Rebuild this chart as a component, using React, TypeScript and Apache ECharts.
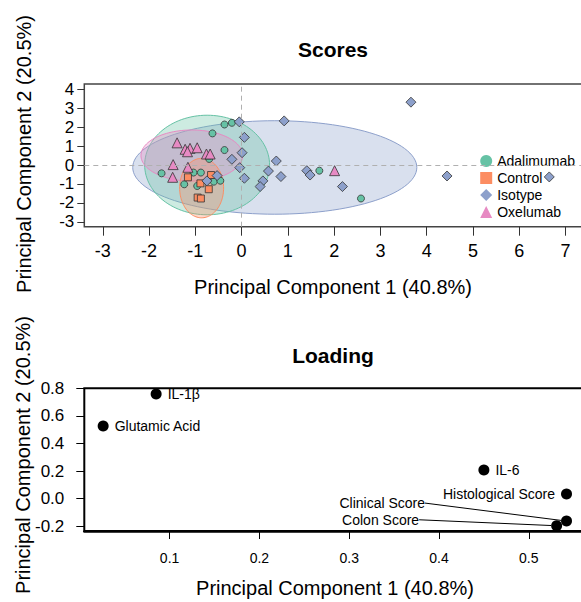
import React, { useEffect, useRef } from "react";
import * as echarts from "echarts";

const FONT = "'Liberation Sans', Arial, sans-serif";

// ---- Scores (PCA scores) ----
const groups = ["Adalimumab", "Control", "Isotype", "Oxelumab"];
const groupColors = ["#66c2a5", "#fc8d62", "#8da0cb", "#e78ac3"];
const groupFills = [
  "rgba(102,194,165,0.33)",
  "rgba(252,141,98,0.33)",
  "rgba(141,160,203,0.33)",
  "rgba(231,138,195,0.33)",
];
const groupSymbols = ["circle", "rect", "diamond", "triangle"];
const groupSymbolSizes = [7, 7, 10, 10];

const adalimumabPC1 = [-0.37, -0.21, -0.63, -0.37, -0.7, -1.73, -1.04, -0.88, -1.24, -0.96, -0.6, -0.46, 1.68, 2.58];
const adalimumabPC2 = [2.14, 2.23, 1.67, 0.79, 0.32, -0.44, -0.4, -0.4, -1.02, -1.11, -0.88, -0.83, -0.3, -1.77];

const controlPC1 = [-1.16, -0.89, -0.71, -0.95, -0.88, -0.66];
const controlPC2 = [-0.65, -0.97, -1.28, -1.72, -1.77, -0.53];

const isotypePC1 = [-0.05, 0.92, 0.06, 0.01, -0.21, 0.75, -0.04, 0.58, 0.06, 0.85, 0.46, 0.4, 1.41, 1.48, -0.75, -0.53, 3.66, 4.44, 2.18, 6.65];
const isotypePC2 = [2.28, 2.33, 1.46, 0.65, 0.3, 0.21, -0.14, -0.32, -0.7, -0.61, -0.84, -1.14, -0.3, -0.53, -0.84, -0.56, 3.32, -0.58, -1.14, -0.63];

const oxelumabPC1 = [-1.395, -1.22, -1.115, -1.17, -0.96, -0.76, -0.68, -1.48, -1.16, -1.49, 2.01];
const oxelumabPC2 = [1.17, 0.83, 0.88, 0.7, 0.91, 0.58, 0.58, 0.02, -0.12, -0.65, -0.3];

const groupPC1 = [adalimumabPC1, controlPC1, isotypePC1, oxelumabPC1];
const groupPC2 = [adalimumabPC2, controlPC2, isotypePC2, oxelumabPC2];

// confidence ellipses: centre, radii (per group, same order as groups)
const ellipseCx = [-0.745, -0.864, 0.717, -1.075];
const ellipseCy = [0.0, -1.22, -0.13, 0.5];
const ellipseRx = [1.35, 0.475, 3.07, 1.1];
const ellipseRy = [2.63, 1.57, 2.47, 1.35];
const ellipseDrawOrder = [2, 0, 3, 1];

const scoreXTicks = [-3, -2, -1, 0, 1, 2, 3, 4, 5, 6, 7];
const scoreYTicks = [-3, -2, -1, 0, 1, 2, 3, 4];

// ---- Loadings ----
const loadingNames = ["IL-1β", "Glutamic Acid", "IL-6", "Histological Score", "Clinical Score", "Colon Score"];
const loadingPC1 = [0.085, 0.026, 0.45, 0.542, 0.542, 0.531];
const loadingPC2 = [0.76, 0.527, 0.208, 0.033, -0.164, -0.198];
const loadingLabelSide = ["right", "right", "right", "left", "left", "left"];
const loadingXTicks = [0.1, 0.2, 0.3, 0.4, 0.5];
const loadingYTicks = [-0.2, 0.0, 0.2, 0.4, 0.6, 0.8];

function buildOption(): any {
  const ellipseData = ellipseDrawOrder.map((g) => [ellipseCx[g], ellipseCy[g], ellipseRx[g], ellipseRy[g], g]);

  const scoreSeries = groups.map((name, g) => ({
    name,
    type: "scatter",
    xAxisIndex: 0,
    yAxisIndex: 0,
    symbol: groupSymbols[g],
    symbolSize: groupSymbolSizes[g],
    z: 3,
    itemStyle: { color: groupColors[g], borderColor: "#333", borderWidth: 0.8, opacity: 1 },
    data: groupPC1[g].map((x, i) => [x, groupPC2[g][i]]),
  }));

  return {
    animation: false,
    textStyle: { fontFamily: FONT },
    grid: [
      {
        left: 84.3,
        top: 84,
        width: 504.3,
        height: 142.7,
        show: true,
        borderColor: "#444",
        borderWidth: 1.5,
        backgroundColor: "transparent",
      },
      {
        left: 84.3,
        top: 388.3,
        width: 534.3,
        height: 142.7,
        show: true,
        borderColor: "#000",
        borderWidth: 2,
        backgroundColor: "transparent",
      },
    ],
    xAxis: [
      {
        type: "value",
        gridIndex: 0,
        min: -3.4,
        max: 7.5,
        axisLine: { show: false, onZero: false },
        splitLine: { show: false },
        axisTick: { show: true, customValues: scoreXTicks, length: 9, lineStyle: { color: "#333", width: 1 } },
        axisLabel: { customValues: scoreXTicks, fontSize: 18, color: "#000", margin: 15, fontFamily: FONT },
      },
      {
        type: "value",
        gridIndex: 1,
        min: 0.005,
        max: 0.6,
        axisLine: { show: true, onZero: false, lineStyle: { color: "#000", width: 2.5 } },
        splitLine: { show: false },
        axisTick: { show: true, customValues: loadingXTicks, length: 8, lineStyle: { color: "#000", width: 1 } },
        axisLabel: {
          customValues: loadingXTicks,
          fontSize: 14,
          color: "#000",
          margin: 20,
          fontFamily: FONT,
          formatter: (v: number) => v.toFixed(1),
        },
      },
    ],
    yAxis: [
      {
        type: "value",
        gridIndex: 0,
        min: -3.26,
        max: 4.28,
        axisLine: { show: false, onZero: false },
        splitLine: { show: false },
        axisTick: { show: true, customValues: scoreYTicks, length: 7, lineStyle: { color: "#333", width: 1 } },
        axisLabel: { customValues: scoreYTicks, fontSize: 17, color: "#000", margin: 10, fontFamily: FONT },
      },
      {
        type: "value",
        gridIndex: 1,
        min: -0.236,
        max: 0.801,
        axisLine: { show: false, onZero: false },
        splitLine: { show: false },
        axisTick: { show: true, customValues: loadingYTicks, length: 8, lineStyle: { color: "#000", width: 1 } },
        axisLabel: {
          customValues: loadingYTicks,
          fontSize: 17,
          color: "#000",
          margin: 20,
          fontFamily: FONT,
          formatter: (v: number) => v.toFixed(1),
        },
      },
    ],
    legend: {
      data: groups,
      orient: "vertical",
      left: 475.2,
      top: 149,
      padding: 5,
      itemWidth: 12,
      itemHeight: 12,
      itemGap: 3,
      textStyle: { fontSize: 14, color: "#000", fontFamily: FONT },
      itemStyle: { borderWidth: 0 },
    },
    series: [
      {
        name: "ellipses",
        type: "custom",
        xAxisIndex: 0,
        yAxisIndex: 0,
        z: 1,
        silent: true,
        encode: { x: 0, y: 1 },
        data: ellipseData,
        renderItem: (params: any, api: any) => {
          const cx = api.value(0);
          const cy = api.value(1);
          const rx = api.value(2);
          const ry = api.value(3);
          const g = api.value(4);
          const pts: number[][] = [];
          const n = 120;
          for (let k = 0; k < n; k++) {
            const t = (k / n) * Math.PI * 2;
            pts.push(api.coord([cx + rx * Math.cos(t), cy + ry * Math.sin(t)]));
          }
          return {
            type: "polygon",
            shape: { points: pts },
            style: { fill: groupFills[g], stroke: groupColors[g], lineWidth: 1 },
          };
        },
        markLine: {
          silent: true,
          symbol: "none",
          label: { show: false },
          lineStyle: { type: [5, 4], color: "#b0b0b0", width: 1 },
          data: [{ xAxis: 0 }, { yAxis: 0 }],
        },
      },
      ...scoreSeries,
      {
        name: "loadings",
        type: "scatter",
        xAxisIndex: 1,
        yAxisIndex: 1,
        symbol: "circle",
        symbolSize: 11,
        clip: false,
        z: 3,
        itemStyle: { color: "#000", opacity: 1 },
        label: {
          show: true,
          fontSize: 14,
          color: "#000",
          opacity: 1,
          textBorderWidth: 0,
          fontFamily: FONT,
          distance: 6,
          formatter: (p: any) => p.name,
        },
        labelLine: { show: false, lineStyle: { color: "#000", width: 1, opacity: 1 } },
        labelLayout: (p: any) => {
          if (p.dataIndex === 4) return { dx: -130, dy: -18 };
          if (p.dataIndex === 5) return { dx: -126, dy: -6 };
          return {};
        },
        data: loadingNames.map((name, i) => ({
          name,
          value: [loadingPC1[i], loadingPC2[i]],
          label: { position: loadingLabelSide[i] },
          labelLine: { show: i >= 4, lineStyle: { color: "#000", width: 1, opacity: 1 } },
        })),
      },
    ],
    graphic: [
      {
        type: "text",
        x: 333,
        y: 49,
        style: { text: "Scores", font: `bold 21px ${FONT}`, fill: "#000", textAlign: "center", textVerticalAlign: "middle" },
      },
      {
        type: "text",
        x: 333,
        y: 355,
        style: { text: "Loading", font: `bold 21px ${FONT}`, fill: "#000", textAlign: "center", textVerticalAlign: "middle" },
      },
      {
        type: "text",
        x: 333,
        y: 287,
        style: { text: "Principal Component 1 (40.8%)", font: `20px ${FONT}`, fill: "#000", textAlign: "center", textVerticalAlign: "middle" },
      },
      {
        type: "text",
        x: 335,
        y: 588,
        style: { text: "Principal Component 1 (40.8%)", font: `20px ${FONT}`, fill: "#000", textAlign: "center", textVerticalAlign: "middle" },
      },
      {
        type: "text",
        x: 24,
        y: 154,
        rotation: Math.PI / 2,
        style: { text: "Principal Component 2 (20.5%)", font: `20px ${FONT}`, fill: "#000", textAlign: "center", textVerticalAlign: "middle" },
      },
      {
        type: "text",
        x: 23,
        y: 455,
        rotation: Math.PI / 2,
        style: { text: "Principal Component 2 (20.5%)", font: `20px ${FONT}`, fill: "#000", textAlign: "center", textVerticalAlign: "middle" },
      },
    ],
  };
}

export default function App() {
  const ref = useRef<HTMLDivElement>(null);
  useEffect(() => {
    if (!ref.current) return;
    const chart = echarts.init(ref.current, null, { renderer: "svg" });
    chart.setOption(buildOption());
    return () => chart.dispose();
  }, []);
  return (
    <div
      style={{
        position: "fixed",
        left: 0,
        top: 0,
        width: 581,
        height: 602,
        overflow: "hidden",
        background: "#fff",
      }}
    >
      <div ref={ref} style={{ width: 640, height: 602 }} />
    </div>
  );
}
